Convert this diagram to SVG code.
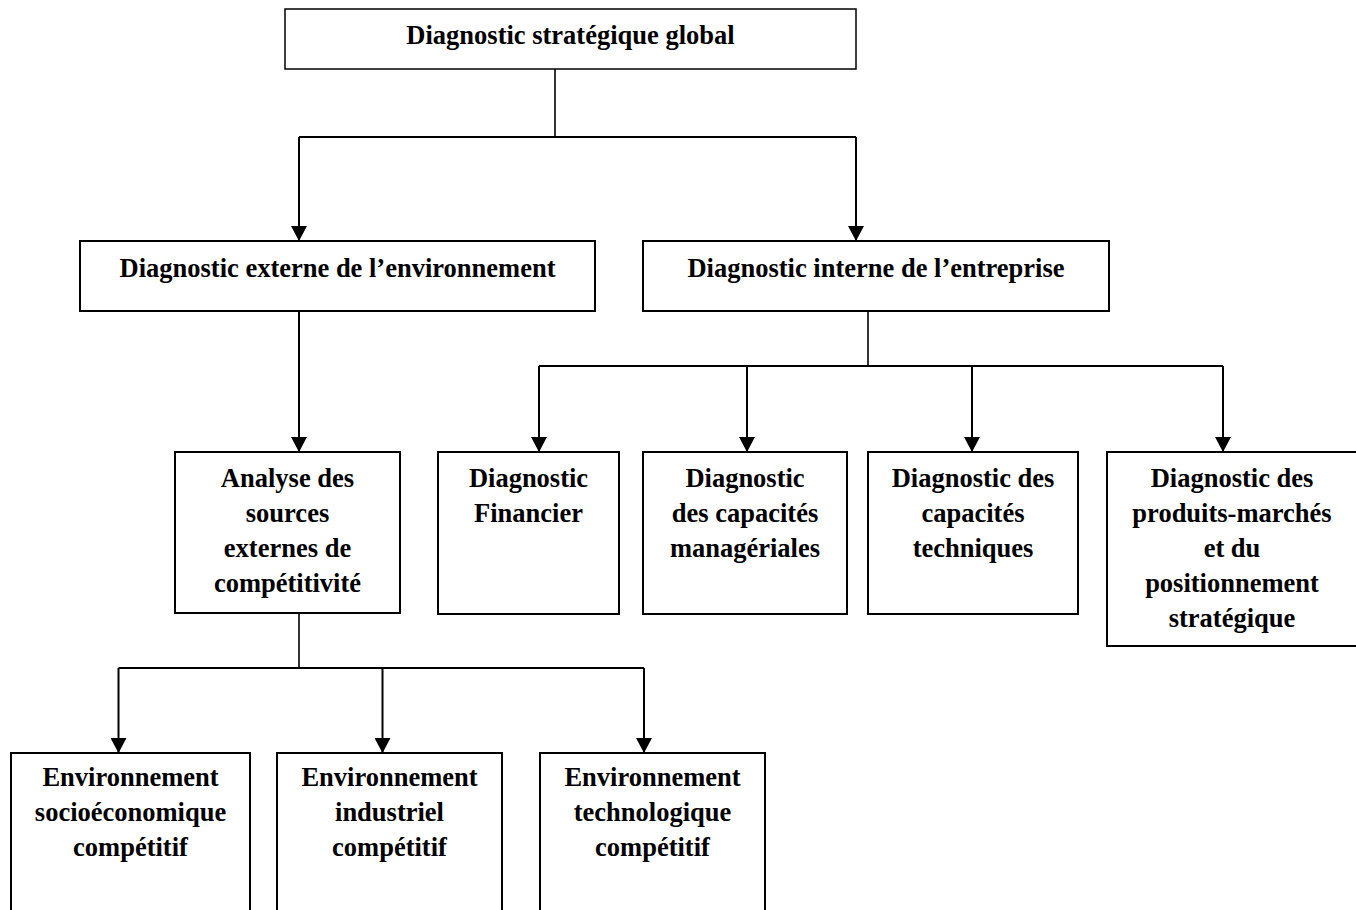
<svg xmlns="http://www.w3.org/2000/svg" width="1356" height="910" viewBox="0 0 1356 910">
  <style>
    .box { fill: #ffffff; stroke: #000000; stroke-width: 2; }
    .box.thin { stroke-width: 1.5; }
    .lbl { font-family: "Liberation Serif", "Times New Roman", serif; font-weight: bold; font-size: 26.5px; fill: #000000; text-anchor: middle; }
    .wire { fill: none; stroke: #000000; stroke-width: 2; }
    .stem { fill: none; stroke: #000000; stroke-width: 1.6; }
    .arrow { fill: none; stroke: #000000; stroke-width: 2; marker-end: url(#head); }
  </style>
  <defs>
    <marker id="head" viewBox="0 0 15 16" refX="15" refY="8" markerWidth="15" markerHeight="16" markerUnits="userSpaceOnUse" orient="auto">
      <path d="M0,0 L15,8 L0,16 Z" fill="#000000"/>
    </marker>
  </defs>
  <rect width="1356" height="910" fill="#ffffff"/>

  <!-- connectors -->
  <g id="connectors">
    <path class="stem" d="M555,69 V137"/>
    <path class="wire" d="M299,137 H856"/>
    <path class="arrow" d="M299,137 V241"/>
    <path class="arrow" d="M856,137 V241"/>

    <path class="arrow" d="M299,311 V452"/>

    <path class="stem" d="M868,311 V366"/>
    <path class="wire" d="M539,366 H1223"/>
    <path class="arrow" d="M539,366 V452"/>
    <path class="arrow" d="M747,366 V452"/>
    <path class="arrow" d="M972,366 V452"/>
    <path class="arrow" d="M1223,366 V452"/>

    <path class="stem" d="M299,613 V668"/>
    <path class="wire" d="M118.5,668 H644"/>
    <path class="arrow" d="M118.5,668 V753"/>
    <path class="arrow" d="M382.5,668 V753"/>
    <path class="arrow" d="M644,668 V753"/>
  </g>

  <!-- level 0 -->
  <g id="global">
    <rect class="box thin" x="285" y="9" width="571" height="60"/>
    <text class="lbl" x="570.5" y="44">Diagnostic stratégique global</text>
  </g>

  <!-- level 1 -->
  <g id="externe">
    <rect class="box" x="80" y="241" width="515" height="70"/>
    <text class="lbl" x="337.5" y="277">Diagnostic externe de l’environnement</text>
  </g>
  <g id="interne">
    <rect class="box" x="643" y="241" width="466" height="70"/>
    <text class="lbl" x="876" y="277">Diagnostic interne de l’entreprise</text>
  </g>

  <!-- level 2 -->
  <g id="analyse">
    <rect class="box" x="175" y="452" width="225" height="161"/>
    <text class="lbl" x="287.5" y="487">Analyse des</text>
    <text class="lbl" x="287.5" y="522">sources</text>
    <text class="lbl" x="287.5" y="557">externes de</text>
    <text class="lbl" x="287.5" y="592">compétitivité</text>
  </g>
  <g id="financier">
    <rect class="box" x="438" y="452" width="181" height="162"/>
    <text class="lbl" x="528.5" y="487">Diagnostic</text>
    <text class="lbl" x="528.5" y="522">Financier</text>
  </g>
  <g id="manageriales">
    <rect class="box" x="643" y="452" width="204" height="162"/>
    <text class="lbl" x="745" y="487">Diagnostic</text>
    <text class="lbl" x="745" y="522">des capacités</text>
    <text class="lbl" x="745" y="557">managériales</text>
  </g>
  <g id="techniques">
    <rect class="box" x="868" y="452" width="210" height="162"/>
    <text class="lbl" x="973" y="487">Diagnostic des</text>
    <text class="lbl" x="973" y="522">capacités</text>
    <text class="lbl" x="973" y="557">techniques</text>
  </g>
  <g id="produits">
    <rect class="box" x="1107" y="452" width="263" height="194"/>
    <text class="lbl" x="1232" y="487">Diagnostic des</text>
    <text class="lbl" x="1232" y="522">produits-marchés</text>
    <text class="lbl" x="1232" y="557">et du</text>
    <text class="lbl" x="1232" y="592">positionnement</text>
    <text class="lbl" x="1232" y="627">stratégique</text>
  </g>

  <!-- level 3 -->
  <g id="socioeconomique">
    <rect class="box" x="11" y="753" width="239" height="180"/>
    <text class="lbl" x="130.5" y="786">Environnement</text>
    <text class="lbl" x="130.5" y="821">socioéconomique</text>
    <text class="lbl" x="130.5" y="856">compétitif</text>
  </g>
  <g id="industriel">
    <rect class="box" x="277" y="753" width="225" height="180"/>
    <text class="lbl" x="389.5" y="786">Environnement</text>
    <text class="lbl" x="389.5" y="821">industriel</text>
    <text class="lbl" x="389.5" y="856">compétitif</text>
  </g>
  <g id="technologique">
    <rect class="box" x="540" y="753" width="225" height="180"/>
    <text class="lbl" x="652.5" y="786">Environnement</text>
    <text class="lbl" x="652.5" y="821">technologique</text>
    <text class="lbl" x="652.5" y="856">compétitif</text>
  </g>
</svg>
